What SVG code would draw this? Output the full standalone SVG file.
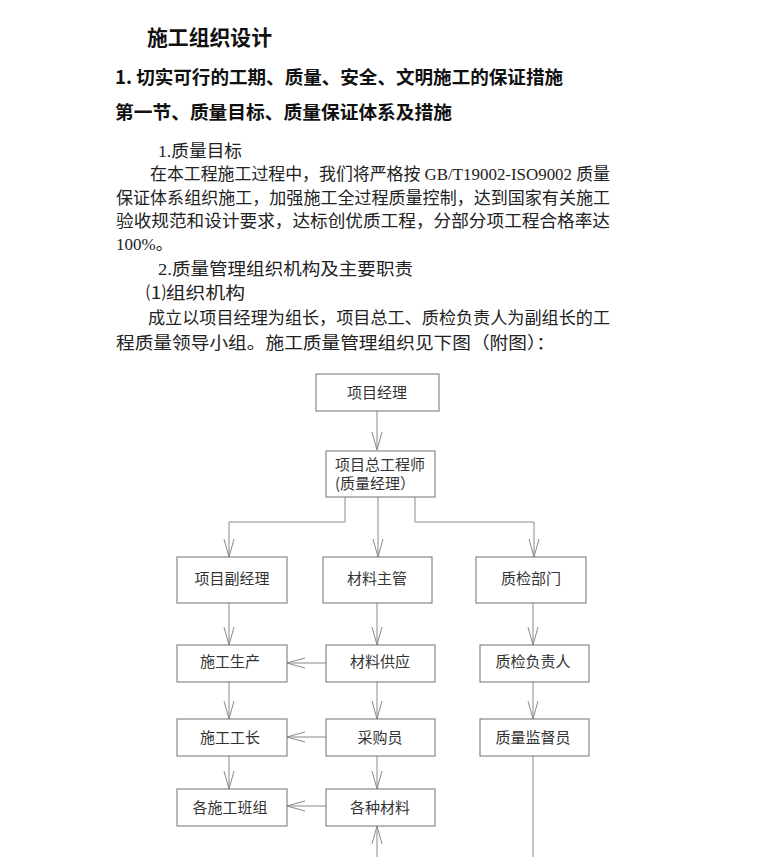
<svg xmlns="http://www.w3.org/2000/svg" width="781" height="857" viewBox="0 0 781 857">
<defs>
<marker id="v" viewBox="0 0 18 10" refX="18" refY="5" markerWidth="18" markerHeight="10" markerUnits="userSpaceOnUse" orient="auto" overflow="visible">
<path d="M0,0 L18,5 L0,10" fill="none" stroke="#8a8a8a" stroke-width="1"/>
</marker>
</defs>
<style>
.h{font-family:"Noto Sans CJK SC",sans-serif;font-weight:bold;fill:#111}
.b{font-family:"Liberation Serif","Noto Sans CJK SC",serif;font-size:17px;fill:#222}
.box rect{fill:#fff;stroke:#707070;stroke-width:1}
.box text{font-family:"Noto Sans CJK SC",sans-serif;font-size:15px;fill:#333;text-anchor:middle}
.c path{fill:none;stroke:#8a8a8a;stroke-width:1}
</style>
<rect width="781" height="857" fill="#fff"/>
<g id="text">
<text class="h" x="147" y="44.5" font-size="21" textLength="125" lengthAdjust="spacingAndGlyphs">施工组织设计</text>
<text class="h" x="115" y="84" font-size="18.7" textLength="448" lengthAdjust="spacingAndGlyphs">1. 切实可行的工期、质量、安全、文明施工的保证措施</text>
<text class="h" x="115" y="119" font-size="18.7" textLength="337" lengthAdjust="spacingAndGlyphs">第一节、质量目标、质量保证体系及措施</text>
<text class="b" x="158" y="156.5" textLength="84" lengthAdjust="spacingAndGlyphs">1.质量目标</text>
<text class="b" x="150" y="179.5" textLength="460" lengthAdjust="spacingAndGlyphs">在本工程施工过程中，我们将严格按 GB/T19002-ISO9002 质量</text>
<text class="b" x="116" y="203.5" textLength="494" lengthAdjust="spacingAndGlyphs">保证体系组织施工，加强施工全过程质量控制，达到国家有关施工</text>
<text class="b" x="116" y="226.5" textLength="494" lengthAdjust="spacingAndGlyphs">验收规范和设计要求，达标创优质工程，分部分项工程合格率达</text>
<text class="b" x="116" y="249.5">100%。</text>
<text class="b" x="158" y="274.5" textLength="255" lengthAdjust="spacingAndGlyphs">2.质量管理组织机构及主要职责</text>
<text class="b" x="146" y="298.5" textLength="99" lengthAdjust="spacingAndGlyphs">⑴组织机构</text>
<text class="b" x="148" y="323.5" textLength="462" lengthAdjust="spacingAndGlyphs">成立以项目经理为组长，项目总工、质检负责人为副组长的工</text>
<text class="b" x="116" y="348.5" textLength="439" lengthAdjust="spacingAndGlyphs">程质量领导小组。施工质量管理组织见下图（附图）：</text>
</g>
<g class="c" id="connectors">
<path d="M377,411 V450" marker-end="url(#v)"/>
<path d="M345,497 V522 H229 V557" marker-end="url(#v)"/>
<path d="M378,497 V557" marker-end="url(#v)"/>
<path d="M415,497 V522 H534 V557" marker-end="url(#v)"/>
<path d="M229,603 V645" marker-end="url(#v)"/>
<path d="M377,603 V645" marker-end="url(#v)"/>
<path d="M533,603 V645" marker-end="url(#v)"/>
<path d="M326,663 H287" marker-end="url(#v)"/>
<path d="M229,682 V719" marker-end="url(#v)"/>
<path d="M377,682 V719" marker-end="url(#v)"/>
<path d="M533,682 V719" marker-end="url(#v)"/>
<path d="M326,737 H287" marker-end="url(#v)"/>
<path d="M229,756 V789" marker-end="url(#v)"/>
<path d="M377,756 V789" marker-end="url(#v)"/>
<path d="M326,806 H287" marker-end="url(#v)"/>
<path d="M377,857 V826" marker-end="url(#v)"/>
<path d="M533,756 V857"/>
</g>
<g class="box" id="n-pm"><rect x="316" y="374" width="123" height="37"/><text x="377" y="398">项目经理</text></g>
<g class="box" id="n-chief"><rect x="326" y="451" width="109" height="46"/><text x="335" y="469.5" style="text-anchor:start">项目总工程师</text><text x="335" y="489" style="text-anchor:start">(质量经理）</text></g>
<g class="box" id="n-deputy"><rect x="177" y="557" width="110" height="46"/><text x="232" y="584">项目副经理</text></g>
<g class="box" id="n-matmgr"><rect x="323" y="557" width="109" height="46"/><text x="377" y="584">材料主管</text></g>
<g class="box" id="n-qcdept"><rect x="476" y="557" width="110" height="46"/><text x="531" y="584">质检部门</text></g>
<g class="box" id="n-prod"><rect x="177" y="645" width="110" height="37"/><text x="230" y="667">施工生产</text></g>
<g class="box" id="n-supply"><rect x="326" y="645" width="109" height="37"/><text x="380" y="667">材料供应</text></g>
<g class="box" id="n-qclead"><rect x="480" y="645" width="109" height="37"/><text x="533" y="667">质检负责人</text></g>
<g class="box" id="n-foreman"><rect x="177" y="719" width="110" height="37"/><text x="230" y="743">施工工长</text></g>
<g class="box" id="n-buyer"><rect x="326" y="719" width="109" height="37"/><text x="380" y="743">采购员</text></g>
<g class="box" id="n-qsup"><rect x="480" y="719" width="109" height="37"/><text x="533" y="743">质量监督员</text></g>
<g class="box" id="n-teams"><rect x="177" y="789" width="110" height="37"/><text x="230" y="813">各施工班组</text></g>
<g class="box" id="n-mats"><rect x="326" y="789" width="109" height="37"/><text x="380" y="813">各种材料</text></g>
</svg>
